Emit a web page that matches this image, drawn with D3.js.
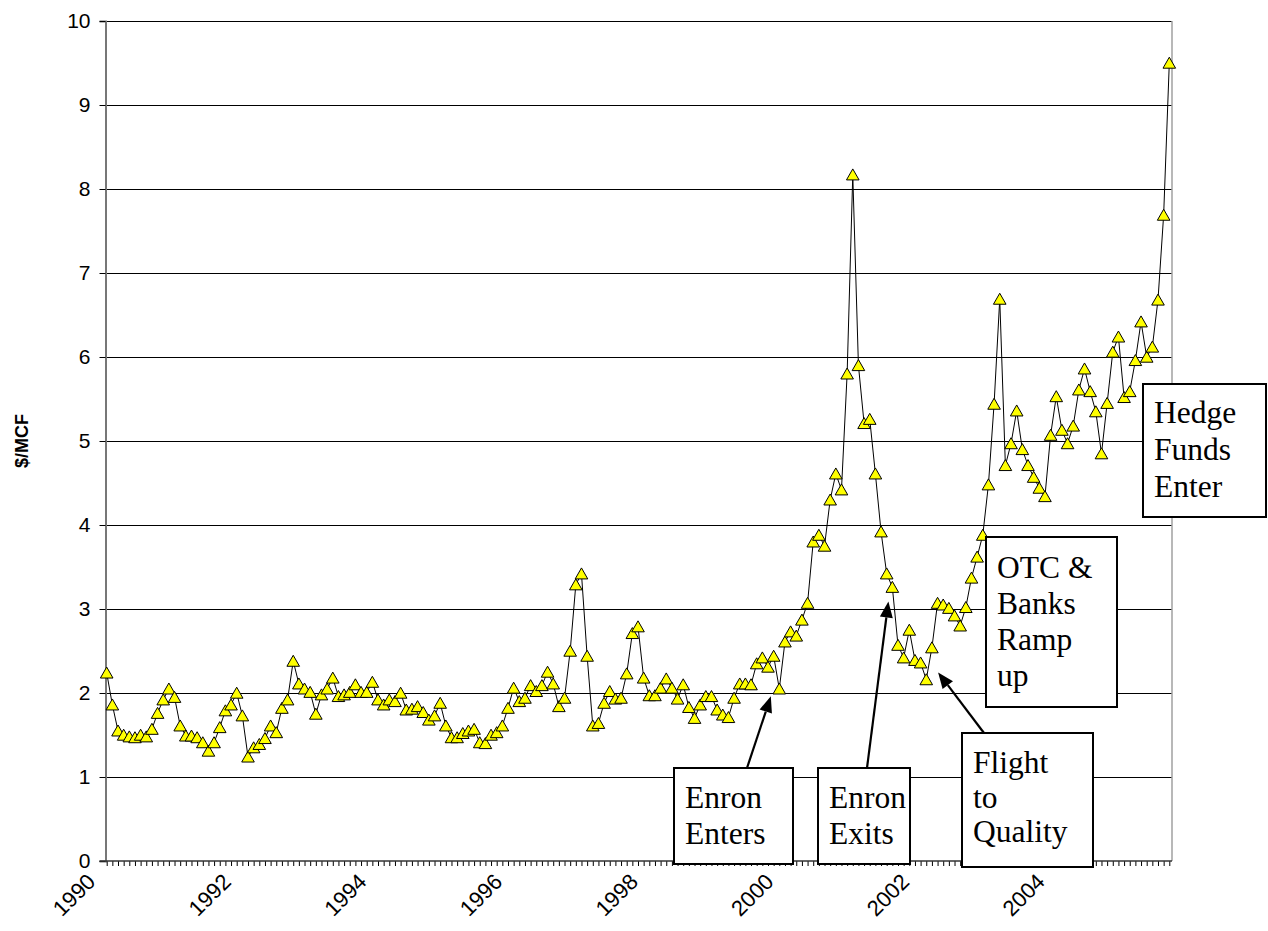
<!DOCTYPE html>
<html>
<head>
<meta charset="utf-8">
<script src="https://cdn.jsdelivr.net/npm/d3@7"></script>
<style>
  html, body { margin: 0; padding: 0; background: #fff; }
  svg { display: block; }
</style>
</head>
<body>
<svg id="chart" width="1268" height="931"></svg>
<script>
// ---- DATA (monthly $/MCF, Jan 1990 onward) ----
const prices = [
  2.24, 1.86, 1.55, 1.50, 1.48, 1.47, 1.50, 1.48, 1.57, 1.76, 1.92, 2.05,
  1.95, 1.61, 1.49, 1.49, 1.47, 1.41, 1.31, 1.41, 1.59, 1.79, 1.86, 2.00,
  1.73, 1.24, 1.35, 1.39, 1.46, 1.61, 1.53, 1.82, 1.92, 2.38, 2.11, 2.05,
  2.01, 1.75, 1.98, 2.05, 2.18, 1.96, 1.98, 2.01, 2.10, 2.01, 2.01, 2.13,
  1.92, 1.86, 1.92, 1.90, 2.00, 1.80, 1.81, 1.84, 1.77, 1.68, 1.73, 1.88,
  1.61, 1.47, 1.47, 1.52, 1.55, 1.57, 1.41, 1.40, 1.50, 1.53, 1.61, 1.82,
  2.06, 1.90, 1.94, 2.09, 2.02, 2.09, 2.25, 2.11, 1.84, 1.94, 2.50, 3.29,
  3.42, 2.44, 1.61, 1.64, 1.88, 2.02, 1.93, 1.94, 2.23, 2.71, 2.79, 2.18,
  1.97, 1.97, 2.06, 2.17, 2.06, 1.93, 2.10, 1.83, 1.70, 1.86, 1.96, 1.96,
  1.80, 1.74, 1.71, 1.94, 2.11, 2.11, 2.10, 2.35, 2.42, 2.31, 2.44, 2.05,
  2.61, 2.73, 2.68, 2.87, 3.07, 3.80, 3.88, 3.75, 4.30, 4.61, 4.42, 5.80,
  8.17, 5.90, 5.21, 5.26, 4.61, 3.92, 3.42, 3.26, 2.57, 2.42, 2.75, 2.39,
  2.36, 2.16, 2.54, 3.07, 3.05, 3.01, 2.92, 2.80, 3.02, 3.37, 3.62, 3.88,
  4.48, 5.44, 6.69, 4.71, 4.97, 5.36, 4.90, 4.71, 4.57, 4.44, 4.34, 5.07,
  5.53, 5.13, 4.97, 5.18, 5.61, 5.86, 5.59, 5.35, 4.85, 5.45, 6.06, 6.24,
  5.52, 5.59, 5.96, 6.42, 6.00, 6.12, 6.68, 7.69, 9.50
];
const yearLabels = ["1990", "1992", "1994", "1996", "1998", "2000", "2002", "2004"];
const yTicks = [0, 1, 2, 3, 4, 5, 6, 7, 8, 9, 10];
const yTitle = "$/MCF";

// annotation texts and the (month index, value) each arrow points to
const noteTexts = [
  ["Enron", "Enters"],
  ["Enron", "Exits"],
  ["Flight", "to", "Quality"],
  ["OTC &", "Banks", "Ramp", "up"],
  ["Hedge", "Funds", "Enter"]
];
const arrowTargets = [[117.5, 1.96], [138.3, 3.09], [147.1, 2.245], null, null];

// ---- LAYOUT ----
const svg = d3.select("#chart");
const W = 1268, H = 931;
const plot = { left: 105.5, right: 1172, top: 21, bottom: 861 };
const sans = "Liberation Sans, Arial, sans-serif";

const x = d3.scaleLinear().domain([0, prices.length - 1]).range([106.7, 1169.3]);
const y = d3.scaleLinear().domain([0, 10]).range([plot.bottom, plot.top]);

svg.append("rect").attr("width", W).attr("height", H).attr("fill", "#fff");

// gridlines
svg.append("g").selectAll("line").data(yTicks.filter(d => d > 0)).join("line")
  .attr("x1", plot.left).attr("x2", plot.right)
  .attr("y1", d => y(d)).attr("y2", d => y(d))
  .attr("stroke", "#000").attr("stroke-width", 1).attr("shape-rendering", "crispEdges");

// plot border right
svg.append("line").attr("x1", plot.right).attr("x2", plot.right)
  .attr("y1", plot.top).attr("y2", plot.bottom)
  .attr("stroke", "#a0a0a0").attr("stroke-width", 1.5);

// y axis
const yAxis = d3.axisLeft(y).tickValues(yTicks).tickSize(6).tickPadding(9).tickFormat(d3.format("d"));
const yg = svg.append("g").attr("transform", `translate(${plot.left},0)`).call(yAxis);
yg.attr("font-size", null).attr("font-family", null);
yg.select(".domain").attr("stroke", "#777").attr("stroke-width", 2);
yg.selectAll(".tick line").attr("stroke", "#000");
yg.selectAll(".tick text")
  .style("font-family", sans).style("font-size", "21px").attr("fill", "#000");

// x axis: tick mark for every month
const monthIdx = d3.range(prices.length);
const xAxis = d3.axisBottom(x).tickValues(monthIdx).tickSize(5).tickFormat("");
const xg = svg.append("g").attr("transform", `translate(0,${plot.bottom})`).call(xAxis);
xg.select(".domain").remove();
xg.selectAll(".tick line").attr("stroke", "#000").attr("stroke-width", 1);
svg.append("line").attr("x1", plot.left - 6).attr("x2", plot.right)
  .attr("y1", plot.bottom).attr("y2", plot.bottom)
  .attr("stroke", "#333").attr("stroke-width", 1.5);

// x labels (rotated)
svg.append("g").selectAll("text").data(yearLabels).join("text")
  .attr("transform", (d, i) => `translate(${x(i * 24) - 10},${plot.bottom + 22}) rotate(-45)`)
  .attr("text-anchor", "end")
  .style("font-family", sans).style("font-size", "22px").attr("fill", "#000")
  .text(d => d);

// y title
svg.append("text")
  .attr("transform", `translate(28,${(plot.top + plot.bottom) / 2}) rotate(-90)`)
  .attr("text-anchor", "middle")
  .style("font-family", sans).style("font-weight", "bold").style("font-size", "18px")
  .text(yTitle);

// series line
svg.append("path").datum(prices)
  .attr("d", d3.line().x((d, i) => x(i)).y(d => y(d)))
  .attr("fill", "none").attr("stroke", "#000").attr("stroke-width", 1);

// markers
svg.append("g").selectAll("path").data(prices).join("path")
  .attr("transform", (d, i) => `translate(${x(i)},${y(d)})`)
  .attr("d", "M0,-5.8L6.3,5.2L-6.3,5.2Z")
  .attr("fill", "#ffff00").attr("stroke", "#000").attr("stroke-width", 1);

// annotation boxes (pixel layout)
const boxes = [
  { x: 674, y: 768, w: 119, h: 96, tx: 685, base: 808, lh: 36, from: [747, 768] },
  { x: 818, y: 768, w: 92, h: 96, tx: 829, base: 808, lh: 36, from: [867, 768] },
  { x: 962, y: 733, w: 131, h: 134, tx: 973, base: 773, lh: 34.5, from: [984, 733] },
  { x: 986, y: 537, w: 131, h: 170, tx: 997, base: 578, lh: 36 },
  { x: 1143, y: 384, w: 123, h: 133, tx: 1154, base: 423, lh: 37 }
];

// arrows
boxes.forEach((b, k) => {
  const t = arrowTargets[k];
  if (!t || !b.from) return;
  const tx = x(t[0]), ty = y(t[1]);
  const [fx, fy] = b.from;
  const ang = Math.atan2(ty - fy, tx - fx);
  const L = 16, hw = 6.5;
  const bx = tx - L * Math.cos(ang), by = ty - L * Math.sin(ang);
  svg.append("line").attr("x1", fx).attr("y1", fy).attr("x2", bx).attr("y2", by)
    .attr("stroke", "#000").attr("stroke-width", 2.2);
  const px = -Math.sin(ang), py = Math.cos(ang);
  svg.append("path")
    .attr("d", `M${tx},${ty}L${bx + px * hw},${by + py * hw}L${bx - px * hw},${by - py * hw}Z`)
    .attr("fill", "#000");
});

boxes.forEach((b, k) => {
  const g = svg.append("g");
  g.append("rect").attr("x", b.x).attr("y", b.y).attr("width", b.w).attr("height", b.h)
    .attr("fill", "#fff").attr("stroke", "#000").attr("stroke-width", 2);
  g.selectAll("text").data(noteTexts[k]).join("text")
    .attr("x", b.tx).attr("y", (d, i) => b.base + i * b.lh)
    .style("font-family", "Liberation Serif, Times New Roman, serif")
    .style("font-size", "31.5px").attr("fill", "#000")
    .text(d => d);
});
</script>
</body>
</html>
